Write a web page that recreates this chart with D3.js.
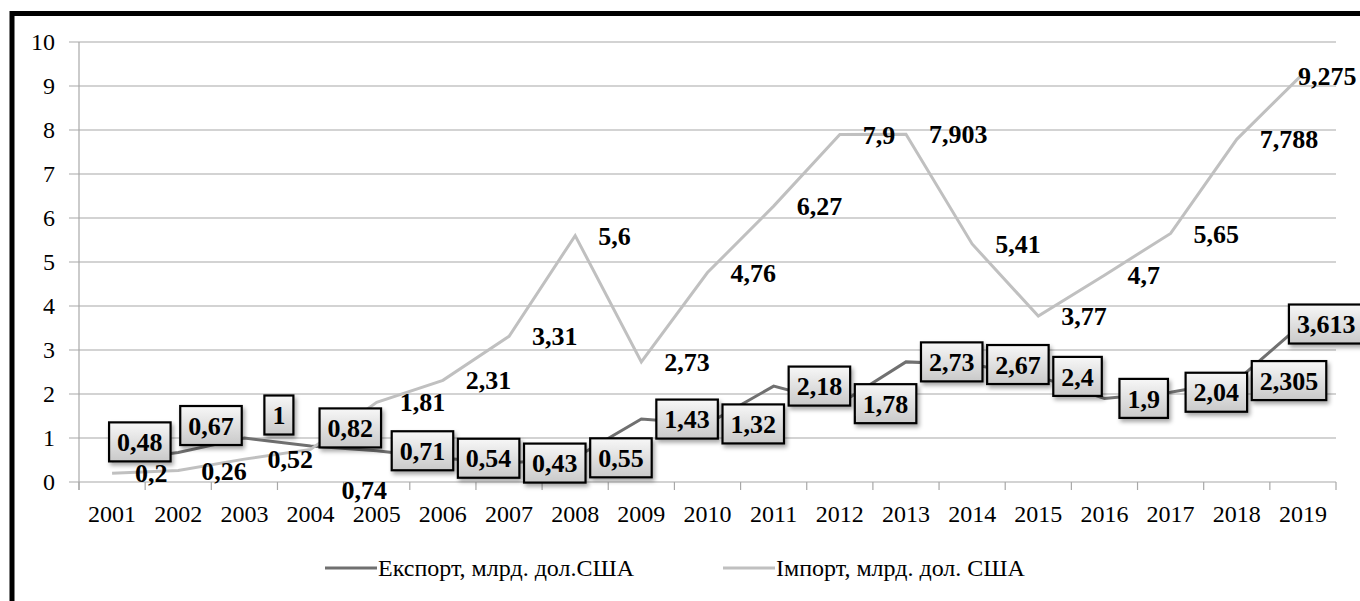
<!DOCTYPE html>
<html><head><meta charset="utf-8"><script src="https://cdn.jsdelivr.net/npm/d3@7"></script>
<style>
@font-face { font-family: "ChartSerif"; src: local("Liberation Serif"), local("LiberationSerif"), local("Liberation Serif Regular"), local("LiberationSerif-Regular"); font-weight: 400; }
@font-face { font-family: "ChartSerif"; src: local("Liberation Serif Bold"), local("LiberationSerif-Bold"); font-weight: 700; }
</style>
</head>
<body style="margin:0">
<svg id="s" width="1360" height="601"></svg>
<script>
// ---- data ----
const years = ["2001","2002","2003","2004","2005","2006","2007","2008","2009","2010",
               "2011","2012","2013","2014","2015","2016","2017","2018","2019"];
const exportValues = [0.48, 0.67, 1, 0.82, 0.71, 0.54, 0.43, 0.55, 1.43, 1.32,
                      2.18, 1.78, 2.73, 2.67, 2.4, 1.9, 2.04, 2.305, 3.613];
const importValues = [0.2, 0.26, 0.52, 0.74, 1.81, 2.31, 3.31, 5.6, 2.73, 4.76,
                      6.27, 7.9, 7.903, 5.41, 3.77, 4.7, 5.65, 7.788, 9.275];
const exportLabels = ["0,48","0,67","1","0,82","0,71","0,54","0,43","0,55","1,43","1,32",
                      "2,18","1,78","2,73","2,67","2,4","1,9","2,04","2,305","3,613"];
const importLabels = ["0,2","0,26","0,52","0,74","1,81","2,31","3,31","5,6","2,73","4,76",
                      "6,27","7,9","7,903","5,41","3,77","4,7","5,65","7,788","9,275"];
const yTicks = [0,1,2,3,4,5,6,7,8,9,10];
const seriesNames = ["Експорт, млрд. дол.США", "Імпорт, млрд. дол. США"];

(function () {
const FONT = '"Liberation Serif", "ChartSerif", "Times New Roman", serif';
const svg = d3.select("#s");
const L = 79, R = 1336, T = 42, B = 482;
const x = d3.scaleBand().domain(years).range([L, R]).padding(0);
const y = d3.scaleLinear().domain([0, 10]).range([B, T]);
const cx = d => x(d) + x.bandwidth() / 2;

const exportColor = "#707070", importColor = "#c0c0c0", gridColor = "#a8a8a8";

const defs = svg.append("defs");
const f = defs.append("filter").attr("id", "shadow").attr("x", "-20%").attr("y", "-20%")
  .attr("width", "150%").attr("height", "160%");
f.append("feDropShadow").attr("dx", 2).attr("dy", 3).attr("stdDeviation", 2)
  .attr("flood-color", "#000").attr("flood-opacity", 0.35);
const g = defs.append("linearGradient").attr("id", "boxgrad")
  .attr("x1", 0).attr("y1", 0).attr("x2", 0).attr("y2", 1);
g.append("stop").attr("offset", "0%").attr("stop-color", "#f7f7f7");
g.append("stop").attr("offset", "100%").attr("stop-color", "#c9c9c9");

// outer frame
svg.append("rect").attr("x", 12).attr("y", 13.5).attr("width", 1400).attr("height", 700)
  .attr("fill", "none").attr("stroke", "#000").attr("stroke-width", 5);

// gridlines
svg.append("g").selectAll("line").data(yTicks).join("line")
  .attr("x1", L - 10).attr("x2", R).attr("y1", d => y(d)).attr("y2", d => y(d))
  .attr("stroke", gridColor).attr("stroke-width", 1.2);
// y tick labels
svg.append("g").selectAll("text").data(yTicks).join("text")
  .attr("x", 55).attr("y", d => y(d)).attr("dy", "0.35em").attr("text-anchor", "end")
  .attr("font-size", 24).attr("fill", "#000")
  .style("font-family", FONT).text(d => d);

svg.append("line").attr("x1", L).attr("x2", L).attr("y1", T).attr("y2", B + 8)
  .attr("stroke", gridColor).attr("stroke-width", 1.2);

// x tick marks and labels
const bounds = years.map(d => x(d)).concat([R]);
svg.append("g").selectAll("line").data(bounds).join("line")
  .attr("x1", d => d).attr("x2", d => d).attr("y1", B).attr("y2", B + 8)
  .attr("stroke", gridColor).attr("stroke-width", 1.2);
svg.append("g").selectAll("text").data(years).join("text")
  .attr("x", d => cx(d)).attr("y", 522).attr("text-anchor", "middle")
  .attr("font-size", 24).attr("fill", "#000")
  .style("font-family", FONT).text(d => d);

// lines
const line = d3.line().x(d => cx(d[0])).y(d => y(d[1]));
svg.append("path").datum(years.map((d, i) => [d, exportValues[i]]))
  .attr("d", line).attr("fill", "none").attr("stroke", exportColor).attr("stroke-width", 3);
svg.append("path").datum(years.map((d, i) => [d, importValues[i]]))
  .attr("d", line).attr("fill", "none").attr("stroke", importColor).attr("stroke-width", 3);

// import labels
const importNudge = { "2004": [31, 40], "2019": [-5, 2] };
svg.append("g").selectAll("text").data(years).join("text")
  .attr("x", (d) => cx(d) + (importNudge[d] ? importNudge[d][0] : 23))
  .attr("y", (d, i) => y(importValues[i]) + (importNudge[d] ? importNudge[d][1] : 0))
  .attr("dy", "0.35em").attr("font-size", 26).attr("font-weight", "bold")
  .style("font-family", FONT).attr("fill", "#000")
  .text((d, i) => importLabels[i]);

// export labels in boxes
const exportNudge = { "2001": [-18, -19], "2002": [-13, -27], "2003": [5, -23], "2004": [-6, -18], "2019": [-29, 1] };
const boxH = 39, pad = 8;
const eg = svg.append("g").selectAll("g").data(years).join("g");
eg.each(function (d, i) {
  const gg = d3.select(this);
  const n = exportNudge[d] || [0, 0];
  const bx = cx(d) + 15 + n[0];
  const by = y(exportValues[i]) + n[1];
  gg.append("text")
    .attr("x", bx + pad).attr("y", by).attr("dy", "0.35em")
    .attr("font-size", 26).attr("font-weight", "bold")
    .style("font-family", FONT).attr("fill", "#000")
    .text(exportLabels[i]);
  const w = 0.5 * 26 * exportLabels[i].replace(",", "").length + (exportLabels[i].includes(",") ? 6.5 : 0) + 2 * pad;
  gg.insert("rect", "text").attr("x", bx).attr("y", by - boxH / 2).attr("width", w).attr("height", boxH)
    .attr("fill", "url(#boxgrad)").attr("stroke", "#000").attr("stroke-width", 2.2)
    .attr("filter", "url(#shadow)");
});

// legend
const legend = [
  { name: seriesNames[0], color: exportColor, x: 325 },
  { name: seriesNames[1], color: importColor, x: 723 }
];
const lg = svg.append("g").selectAll("g").data(legend).join("g");
lg.append("line").attr("x1", d => d.x).attr("x2", d => d.x + 52)
  .attr("y1", 568).attr("y2", 568).attr("stroke", d => d.color).attr("stroke-width", 3);
lg.append("text").attr("x", d => d.x + 53).attr("y", 576)
  .attr("font-size", 24).style("font-family", FONT)
  .attr("fill", "#000").text(d => d.name);
})();
</script>
</body></html>
